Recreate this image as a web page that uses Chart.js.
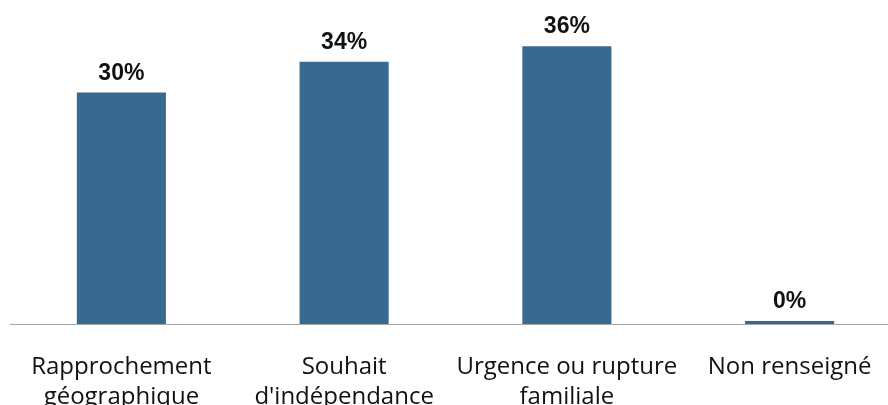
<!DOCTYPE html>
<html lang="fr">
<head>
<meta charset="UTF-8">
<title>Motifs</title>
<style>
html, body { margin:0; padding:0; background:#fff; overflow:hidden; }
#wrap { width:901px; height:405px; position:relative; }
</style>
</head>
<body>
<div id="wrap"><canvas id="chart"></canvas></div>

<script src="https://cdn.jsdelivr.net/npm/chart.js"></script>
<script>
// catégories et valeurs (en %)
const categories = [
  ['Rapprochement', 'géographique'],
  ['Souhait', "d'indépendance"],
  ['Urgence ou rupture', 'familiale'],
  ['Non renseigné']
];
const values = [30, 34, 36, 0.4];

// étiquettes au-dessus des barres
const valueLabels = {
  id: 'valueLabels',
  afterDatasetsDraw(chart) {
    const ctx = chart.ctx;
    const meta = chart.getDatasetMeta(0);
    ctx.save();
    ctx.font = 'bold 23px "Liberation Sans", Arial, sans-serif';
    ctx.fillStyle = '#111';
    ctx.textAlign = 'center';
    ctx.textBaseline = 'alphabetic';
    meta.data.forEach((bar, i) => {
      ctx.fillText(Math.round(values[i]) + '%', bar.x, bar.y - 13);
    });
    ctx.restore();
  }
};

new Chart(document.getElementById('chart'), {
  type: 'bar',
  data: {
    labels: categories,
    datasets: [{
      data: values,
      backgroundColor: '#386a8f',
      categoryPercentage: 1,
      barPercentage: 0.4
    }]
  },
  options: {
    responsive: true,
    maintainAspectRatio: false,
    animation: false,
    layout: { padding: { left: 10, right: 0, top: 0, bottom: 0 } },
    plugins: { legend: { display:false }, tooltip: { enabled:false } },
    scales: {
      y: { display:false, min:0, max:42 },
      x: {
        grid: { display:false },
        border: { display:true, color:'#a6a6a6', width:1 },
        ticks: {
          color:'#111',
          autoSkip:false,
          maxRotation:0,
          padding:20,
          font: { family:'"Open Sans", sans-serif', size:24, lineHeight:1.25 }
        },
        afterFit(scale) { scale.height = 81; }
      }
    }
  },
  plugins: [valueLabels]
});
</script>
</body>
</html>
